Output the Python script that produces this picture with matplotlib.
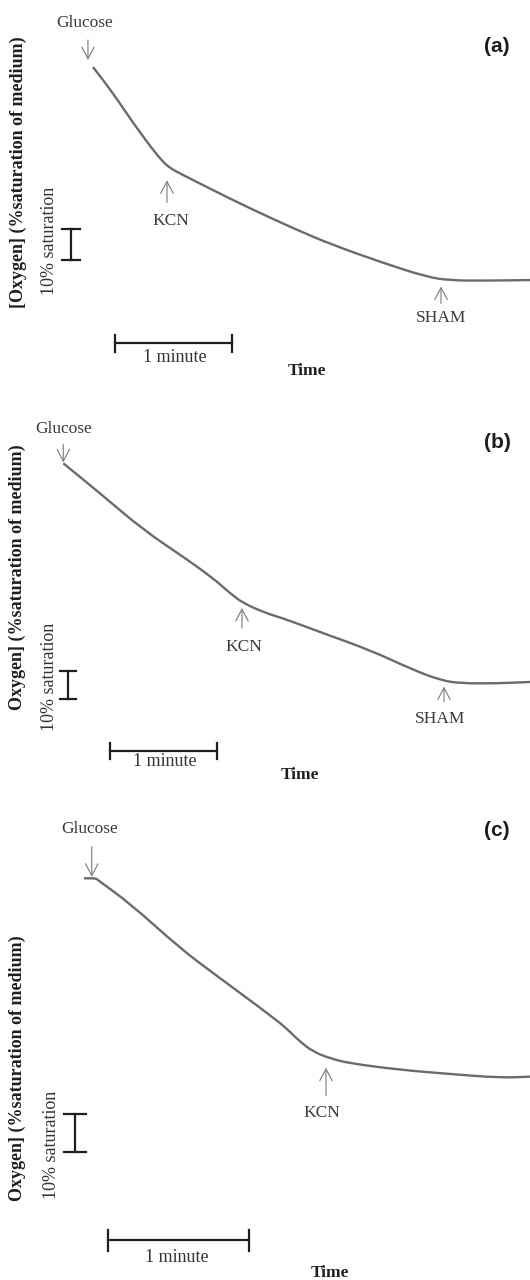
import numpy as np
import matplotlib
matplotlib.use('Agg')
import matplotlib.pyplot as plt
from matplotlib.path import Path
from matplotlib.patches import PathPatch

# oxygen electrode traces
# time in minutes after glucose, oxygen in % saturation (start taken as 100)
time_a = [0.0, 0.171, 0.343, 0.514, 0.600, 0.660, 0.746, 1.028, 1.320, 1.748,
          2.057, 2.485, 2.862, 3.059, 3.342, 3.745]
oxygen_a = [100.0, 91.5, 81.8, 73.0, 69.1, 67.1, 65.3, 59.9, 54.4, 46.9,
            42.0, 36.2, 31.6, 30.5, 30.4, 30.6]

time_b = [0.0, 0.343, 0.748, 1.121, 1.402, 1.558, 1.682, 1.901, 2.025, 2.306,
          2.430, 2.866, 3.271, 3.521, 3.708, 4.050, 4.362]
oxygen_b = [100.0, 89.3, 76.2, 66.6, 58.9, 53.6, 50.0, 46.4, 45.0, 41.1,
            39.3, 33.3, 26.2, 22.6, 21.4, 21.4, 21.9]

time_c = [-0.09, -0.005, 0.005, 0.236, 0.591, 0.827, 1.277, 1.371, 1.442, 1.534,
          1.655, 1.796, 2.151, 2.506, 2.860, 3.073]
oxygen_c = [100.0, 100.0, 99.6, 93.4, 81.6, 75.0, 62.7, 59.6, 57.0, 54.4,
            52.6, 51.3, 49.6, 48.5, 47.5, 47.8]

# additions (minutes after glucose)
events_a = ['Glucose', 'KCN', 'SHAM']
event_times_a = [-0.043, 0.634, 2.982]
events_b = ['Glucose', 'KCN', 'SHAM']
event_times_b = [0.0, 1.670, 3.558]
events_c = ['Glucose', 'KCN']
event_times_c = [-0.035, 1.626]

panel_labels = ['(a)', '(b)', '(c)']
ylabels = ['[Oxygen] (%saturation of medium)',
           'Oxygen] (%saturation of medium)',
           'Oxygen] (%saturation of medium)']

W, H = 530, 1280
SERIF = ['Liberation Serif', 'DejaVu Serif']
SANS = ['Liberation Sans', 'DejaVu Sans']
TRACE = '#6b6b6b'
ARROW = '#7a7a7a'
INK = '#1e1e1e'

# page layout in pixels: band, glucose point, scale of the chart paper
panels = [
    dict(time=time_a, oxygen=oxygen_a, events=events_a, etimes=event_times_a,
         band=(0, 395), origin=(93, 67), px_min=116.7, px_pct=3.07,
         # (side, gap, length, text dx, text dy) per event, pixels
         arrows=[(1, 7, 20, -3, 44), (-1, 15, 22, 4, -56), (-1, 7.5, 17, 0, -38.5)],
         label_xy=(497, 47), ylab_xy=(18, 172), sat_xy=(49, 241),
         vbar=(70.7, 229.3, 9), hbar=(115, 343.3, 8.5),
         minute_xy=(175, 357), time_xy=(307, 371)),
    dict(time=time_b, oxygen=oxygen_b, events=events_b, etimes=event_times_b,
         band=(395, 795), origin=(63.3, 463.3), px_min=107.0, px_pct=2.8,
         arrows=[(1, 1, 18, 0, 34), (-1, 5.7, 20, 2, -44.7), (-1, 6, 15, -4, -38.3)],
         label_xy=(497, 443), ylab_xy=(17, 577), sat_xy=(49, 677),
         vbar=(68, 671, 8), hbar=(110, 751, 8),
         minute_xy=(165, 762), time_xy=(300, 775)),
    dict(time=time_c, oxygen=oxygen_c, events=events_c, etimes=event_times_c,
         band=(795, 1280), origin=(96.7, 878.3), px_min=141.0, px_pct=3.8,
         arrows=[(1, 1.5, 30, -2, 49), (-1, 11, 28, -4, -56)],
         label_xy=(497, 830), ylab_xy=(17, 1068), sat_xy=(52, 1145),
         vbar=(75, 1114, 11), hbar=(108, 1240, 10.5),
         minute_xy=(177, 1257), time_xy=(330, 1273)),
]


def smooth_path(xs, ys):
    # rounded polyline: quadratic bezier corners at each read point
    pts = np.column_stack([xs, ys])
    verts = [pts[0], (pts[0] + pts[1]) / 2]
    codes = [Path.MOVETO, Path.LINETO]
    for i in range(1, len(pts) - 1):
        verts += [pts[i], (pts[i] + pts[i + 1]) / 2]
        codes += [Path.CURVE3, Path.CURVE3]
    verts.append(pts[-1])
    codes.append(Path.LINETO)
    return Path(verts, codes)


fig = plt.figure(figsize=(W / 100, H / 100), dpi=100)

for p, plabel, ylab in zip(panels, panel_labels, ylabels):
    top, bot = p['band']
    gx, gy = p['origin']
    pm, pp = p['px_min'], p['px_pct']

    def to_t(x):
        return (x - gx) / pm

    def to_o(y):
        return 100 - (y - gy) / pp

    ax = fig.add_axes([0, 1 - bot / H, 1, (bot - top) / H])
    ax.set_xlim(to_t(0), to_t(W))
    ax.set_ylim(to_o(bot), to_o(top))
    ax.axis('off')

    # trace
    ax.add_patch(PathPatch(smooth_path(p['time'], p['oxygen']), fill=False,
                           edgecolor=TRACE, lw=1.7, capstyle='butt',
                           joinstyle='round', clip_on=False))

    # addition arrows
    for name, te, (side, gap, length, dx, dy) in zip(p['events'], p['etimes'], p['arrows']):
        yc = np.interp(te, p['time'], p['oxygen'])
        ax.annotate('', xy=(te, yc), xytext=(0, side * (gap + length)),
                    textcoords='offset pixels',
                    arrowprops=dict(arrowstyle='->,head_length=0.85,head_width=0.45',
                                    color=ARROW, lw=0.8, shrinkA=0,
                                    shrinkB=gap * 0.72, mutation_scale=10))
        ax.annotate(name, xy=(te, yc), xytext=(dx, dy), textcoords='offset pixels',
                    ha='center', va='center', fontsize=12.5, family=SERIF,
                    color='#3a3a3a')

    # 10% saturation scale bar
    vx, vy, vcap = p['vbar']
    x0 = to_t(vx)
    y0 = to_o(vy)
    cap = vcap / pm
    ax.plot([x0, x0], [y0, y0 - 10], color=INK, lw=1.6, clip_on=False)
    for yy in (y0, y0 - 10):
        ax.plot([x0 - cap, x0 + cap], [yy, yy], color=INK, lw=1.6, clip_on=False)

    # 1 minute scale bar
    hx, hy, hcap = p['hbar']
    x0 = to_t(hx)
    y0 = to_o(hy)
    cap = hcap / pp
    ax.plot([x0, x0 + 1], [y0, y0], color=INK, lw=1.6, clip_on=False)
    for xx in (x0, x0 + 1):
        ax.plot([xx, xx], [y0 - cap, y0 + cap], color=INK, lw=1.6, clip_on=False)

    # texts
    def put(xy, s, **kw):
        ax.text(to_t(xy[0]), to_o(xy[1]), s, ha='center', va='center', **kw)

    put(p['label_xy'], plabel, fontsize=15, fontweight='bold', family=SANS, color=INK)
    put(p['ylab_xy'], ylab, fontsize=13, fontweight='bold', family=SERIF,
        rotation=90, color=INK)
    put(p['sat_xy'], '10% saturation', fontsize=13, family=SERIF, rotation=90,
        color='#333333')
    put(p['minute_xy'], '1 minute', fontsize=13, family=SERIF, color='#333333')
    put(p['time_xy'], 'Time', fontsize=12.5, fontweight='bold', family=SERIF, color=INK)

fig.savefig('out.png', dpi=100)
